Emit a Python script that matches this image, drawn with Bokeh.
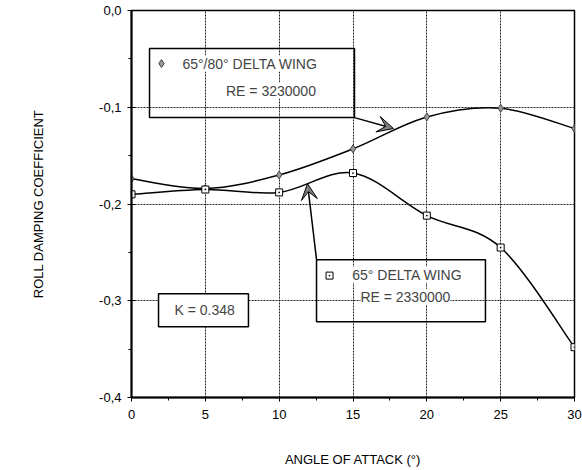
import numpy as np
from bokeh.plotting import figure
from bokeh.models import (Range1d, FixedTicker, CustomJSTickFormatter, BoxAnnotation,
                          Label, Arrow, VeeHead)
from bokeh.embed import file_html
from bokeh.resources import INLINE

# Roll damping coefficient vs angle of attack
alpha = [0, 5, 10, 15, 20, 25, 30]
wing_65_80 = [-0.174, -0.184, -0.170, -0.143, -0.110, -0.101, -0.122]   # RE = 3230000
wing_65 = [-0.190, -0.185, -0.188, -0.168, -0.212, -0.245, -0.348]      # RE = 2330000

x_ticks = [0, 5, 10, 15, 20, 25, 30]
x_minor = [2.5, 7.5, 12.5, 17.5, 22.5, 27.5]
y_ticks = [0.0, -0.1, -0.2, -0.3, -0.4]
y_minor = [-0.05, -0.15, -0.25, -0.35]

FONT = "Liberation Sans"


def smooth_segments(xs, ys):
    """Catmull-Rom curve through the points, expressed as cubic Bezier segments."""
    x = np.asarray(xs, float)
    y = np.asarray(ys, float)
    xp = np.concatenate([[x[0]], x, [x[-1]]])
    yp = np.concatenate([[y[0]], y, [y[-1]]])
    n = len(x) - 1
    seg = dict(x0=[], y0=[], x1=[], y1=[], cx0=[], cy0=[], cx1=[], cy1=[])
    for i in range(n):
        p0x, p0y = xp[i], yp[i]
        p1x, p1y = xp[i + 1], yp[i + 1]
        p2x, p2y = xp[i + 2], yp[i + 2]
        p3x, p3y = xp[i + 3], yp[i + 3]
        seg["x0"].append(p1x); seg["y0"].append(p1y)
        seg["x1"].append(p2x); seg["y1"].append(p2y)
        seg["cx0"].append(p1x + (p2x - p0x) / 6); seg["cy0"].append(p1y + (p2y - p0y) / 6)
        seg["cx1"].append(p2x - (p3x - p1x) / 6); seg["cy1"].append(p2y - (p3y - p1y) / 6)
    return seg


p = figure(frame_width=443, frame_height=387,
           min_border_left=131, min_border_right=8, min_border_top=10, min_border_bottom=73,
           x_range=Range1d(0, 30), y_range=Range1d(-0.4, 0.0),
           output_backend="svg", toolbar_location=None,
           background_fill_color="white", border_fill_color="white")

p.outline_line_color = "black"
p.outline_line_width = 1.5
p.outline_line_alpha = 1

# dotted grid
for g, ticks in ((p.xgrid, x_ticks), (p.ygrid, y_ticks)):
    g.ticker = FixedTicker(ticks=ticks)
    g.grid_line_color = "#222222"
    g.grid_line_alpha = 1
    g.grid_line_dash = "2 1"
    g.grid_line_width = 1

# axes
p.xaxis.ticker = FixedTicker(ticks=x_ticks, minor_ticks=x_minor)
p.yaxis.ticker = FixedTicker(ticks=y_ticks, minor_ticks=y_minor)
p.yaxis.formatter = CustomJSTickFormatter(code="return tick.toFixed(1).replace('.', ',');")
for ax in (p.xaxis, p.yaxis):
    ax.axis_line_color = "black"
    ax.axis_line_width = 2
    ax.major_tick_line_color = "black"
    ax.minor_tick_line_color = "black"
    ax.major_tick_out = 4
    ax.minor_tick_out = 3
    ax.minor_tick_in = 0
    ax.major_label_text_font = FONT
    ax.major_label_text_font_size = "13px"
    ax.major_label_text_color = "black"
    ax.axis_label_text_font = FONT
    ax.axis_label_text_font_size = "13px"
    ax.axis_label_text_font_style = "normal"
    ax.axis_label_text_color = "black"
p.yaxis.major_tick_in = 4
p.xaxis.major_tick_in = 0
p.yaxis.major_label_standoff = 6
p.xaxis.major_label_standoff = 8
p.xaxis.axis_label = "ANGLE OF ATTACK (°)"
p.yaxis.axis_label = "ROLL DAMPING COEFFICIENT"
p.xaxis.axis_label_standoff = 30
p.yaxis.axis_label_standoff = 50

# smoothed curves
for ys in (wing_65_80, wing_65):
    s = smooth_segments(alpha, ys)
    p.bezier(x0=s["x0"], y0=s["y0"], x1=s["x1"], y1=s["y1"],
             cx0=s["cx0"], cy0=s["cy0"], cx1=s["cx1"], cy1=s["cy1"],
             line_color="black", line_width=1.5)

# data markers
p.scatter(alpha, wing_65_80, marker="diamond", size=8,
          fill_color="#9a9a9a", line_color="#444444", line_width=1)
p.scatter(alpha, wing_65, marker="square_dot", size=7,
          fill_color="white", line_color="black", line_width=1)

BOX = dict(line_color="black", line_alpha=1, line_width=1.5)
HEAD = dict(size=16, fill_color="#808080", fill_alpha=1, line_color="black", line_width=1)

# key box for the 65°/80° wing
p.add_layout(BoxAnnotation(left=1.22, right=15.1, top=-0.0393, bottom=-0.1107,
                           fill_alpha=0, **BOX))
p.scatter([2.03], [-0.0548], marker="diamond", size=8,
          fill_color="#9a9a9a", line_color="#444444", line_width=1)
p.add_layout(Label(x=3.45, y=-0.0548, text="65°/80° DELTA WING",
                   text_font=FONT, text_font_size="14px", text_baseline="middle",
                   background_fill_color="white"))
p.add_layout(Label(x=6.4, y=-0.0827, text="RE = 3230000",
                   text_font=FONT, text_font_size="14px", text_baseline="middle",
                   background_fill_color="white"))
p.add_layout(Arrow(x_start=15.1, y_start=-0.1107, x_end=17.74, y_end=-0.122,
                   line_color="black", line_width=1.5, end=VeeHead(**HEAD)))

# key box for the 65° wing
p.add_layout(BoxAnnotation(left=12.53, right=23.97, top=-0.2575, bottom=-0.3216,
                           fill_alpha=0, **BOX))
p.scatter([13.41], [-0.274], marker="square_dot", size=7,
          fill_color="white", line_color="black", line_width=1)
p.add_layout(Label(x=14.95, y=-0.273, text="65° DELTA WING",
                   text_font=FONT, text_font_size="14px", text_baseline="middle",
                   background_fill_color="white"))
p.add_layout(Label(x=15.5, y=-0.2958, text="RE = 2330000",
                   text_font=FONT, text_font_size="14px", text_baseline="middle",
                   background_fill_color="white"))
p.add_layout(Arrow(x_start=12.53, y_start=-0.2575, x_end=11.92, y_end=-0.179,
                   line_color="black", line_width=1.5, end=VeeHead(**HEAD)))

# K box
p.add_layout(BoxAnnotation(left=1.83, right=7.92, top=-0.2927, bottom=-0.3268,
                           fill_color="white", fill_alpha=1, **BOX))
p.add_layout(Label(x=4.95, y=-0.3098, text="K = 0.348",
                   text_font=FONT, text_font_size="14px",
                   text_align="center", text_baseline="middle"))

open("out.html", "w").write(file_html(p, INLINE))
